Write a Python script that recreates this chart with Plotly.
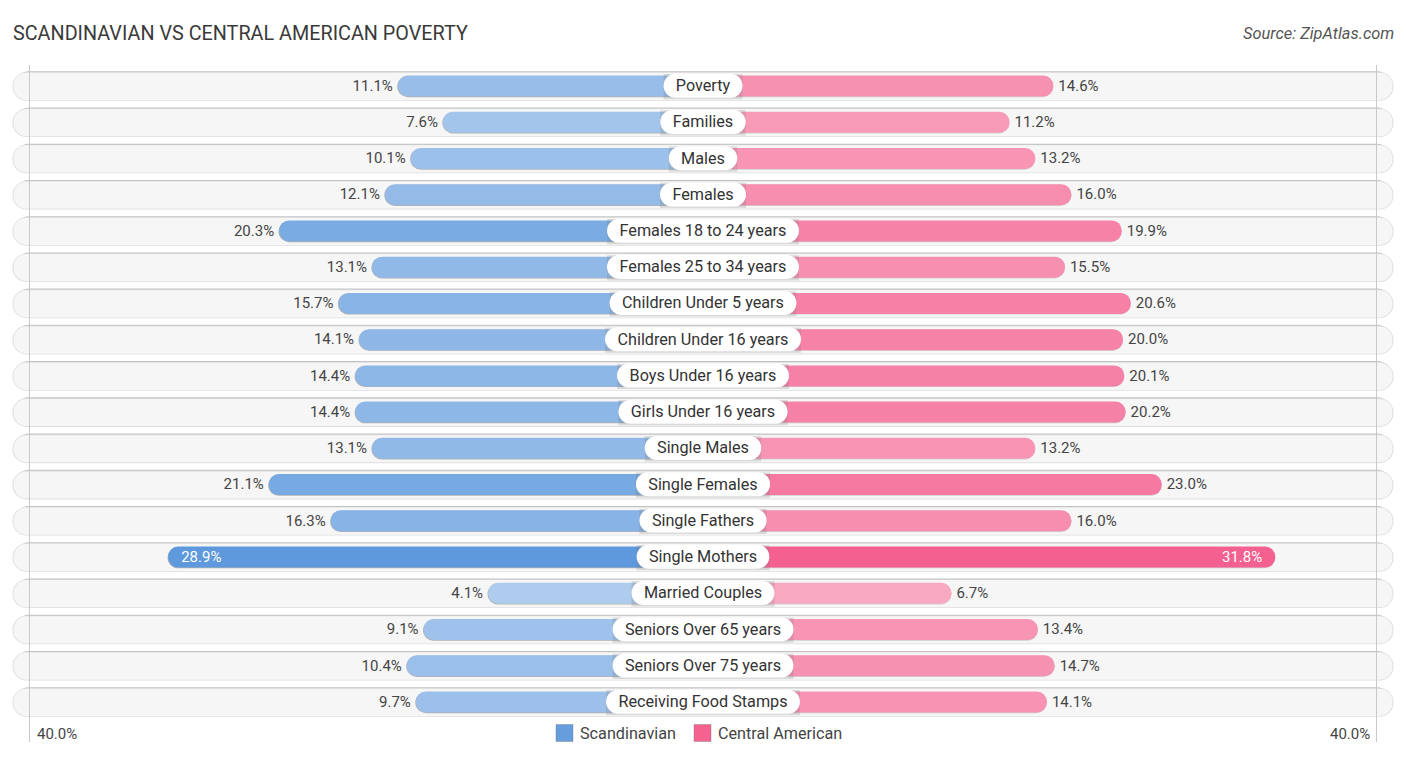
import plotly.graph_objects as go

labels = ["Poverty", "Families", "Males", "Females", "Females 18 to 24 years", "Females 25 to 34 years",
          "Children Under 5 years", "Children Under 16 years", "Boys Under 16 years", "Girls Under 16 years",
          "Single Males", "Single Females", "Single Fathers", "Single Mothers", "Married Couples",
          "Seniors Over 65 years", "Seniors Over 75 years", "Receiving Food Stamps"]
scandinavian = [11.1, 7.6, 10.1, 12.1, 20.3, 13.1, 15.7, 14.1, 14.4, 14.4, 13.1, 21.1, 16.3, 28.9, 4.1, 9.1, 10.4, 9.7]
central_american = [14.6, 11.2, 13.2, 16.0, 19.9, 15.5, 20.6, 20.0, 20.1, 20.2, 13.2, 23.0, 16.0, 31.8, 6.7, 13.4, 14.7, 14.1]
axis_max = 40.0

W, H = 1406, 758
PITCH = 36.235   # px between rows
FIRST_ROW = 86   # px of the first row centre
UNIT = 12.9      # px per percent
ZERO_GAP = 162 / UNIT  # bars start behind the centre label

# roboto advance widths, used to size the white pills
CHAR_W = {"a": .544, "b": .561, "c": .523, "d": .564, "e": .530, "f": .347, "g": .561, "h": .551, "i": .243,
          "l": .243, "m": .876, "n": .552, "o": .570, "p": .561, "r": .339, "s": .516, "t": .327, "u": .551,
          "v": .484, "w": .751, "y": .473, "z": .496, " ": .248, "B": .638, "C": .652, "F": .553, "G": .681,
          "M": .873, "O": .678, "P": .631, "R": .616, "S": .593, "U": .648}


def pill_half(label):
    w = sum(CHAR_W.get(c, .562) for c in label) * 16.2
    return (w / 2 + 12.3) / UNIT


def tint(rgb, v, vmax):
    # longer bars are stronger, mixed with white so the shadow does not show through
    a = 0.5 + 0.5 * (v - 4) / (vmax - 4)
    return "rgb(%d,%d,%d)" % tuple(round(255 + (c - 255) * a) for c in rgb)


def row_bar(x, color, top, bottom, radius):
    # top and bottom are px relative to the row centre
    return go.Bar(x=x, y=labels, orientation="h", width=(bottom - top) / PITCH, offset=top / PITCH,
                  marker=dict(color=color, cornerradius=radius, line=dict(width=0)),
                  hoverinfo="skip", showlegend=False)


fig = go.Figure()

# grey tracks behind every row
track = [690.5 / UNIT] * len(labels)
for side in (1, -1):
    fig.add_trace(row_bar([side * (t - 4 / UNIT) for t in track], "#c2c2c2", -14.8, 10, 12))
    fig.add_trace(row_bar([side * t for t in track], "#dedede", -13.8, 14.8, 14))
    fig.add_trace(row_bar([side * (t - 1 / UNIT) for t in track], "#f6f6f6", -13.2, 14, 13))

# the bars, with a thin shadow under them
left_x = [-(v + ZERO_GAP) for v in scandinavian]
right_x = [v + ZERO_GAP for v in central_american]
fig.add_trace(row_bar([v - 0.6 / UNIT for v in left_x], "rgba(90,90,90,0.45)", -10, 11.2, 11))
fig.add_trace(row_bar(right_x, "rgba(90,90,90,0.25)", -10, 11.2, 11))
fig.add_trace(row_bar(left_x, [tint((94, 153, 221), v, 28.9) for v in scandinavian], -10.5, 10.5, 11))
fig.add_trace(row_bar(right_x, [tint((244, 96, 143), v, 31.8) for v in central_american], -10.5, 10.5, 11))

# white pills in the middle
half = [pill_half(s) for s in labels]
for side in (1, -1):
    fig.add_trace(row_bar([side * h for h in half], "rgba(120,120,120,0.22)", -12, 13.2, 12))
for side in (1, -1):
    fig.add_trace(row_bar([side * h for h in half], "#ffffff", -12.3, 11.7, 12))

# text sits on a second y axis, 1px lower than the bars
fig.add_trace(go.Scatter(x=[0] * len(labels), y=labels, yaxis="y2", mode="text", text=labels,
                         textposition="middle center",
                         textfont=dict(family="Roboto", size=16.2, color="#333333"),
                         hoverinfo="skip", showlegend=False))

# value labels, inside the bar only for the long one
INSIDE = 25
for vals, side, outer, inner in ((scandinavian, -1, "middle left", "middle right"),
                                 (central_american, 1, "middle right", "middle left")):
    xs = [side * (v + ZERO_GAP + (-13 if v > INSIDE else 5) / UNIT) for v in vals]
    fig.add_trace(go.Scatter(x=xs, y=labels, yaxis="y2", mode="text", text=["%.1f%%" % v for v in vals],
                             textposition=[inner if v > INSIDE else outer for v in vals],
                             textfont=dict(family="Roboto", size=15,
                                           color=["#ffffff" if v > INSIDE else "#444444" for v in vals]),
                             hoverinfo="skip", showlegend=False))

# axis end lines
edge = 673.5 / UNIT
for side in (-1, 1):
    fig.add_shape(type="line", xref="x", yref="paper", x0=side * edge, x1=side * edge,
                  y0=1 - 65 / H, y1=1 - 742 / H, line=dict(color="#c8c8c8", width=1))

anns = [
    dict(text="SCANDINAVIAN VS CENTRAL AMERICAN POVERTY", x=11 / W, y=1 - 33 / H, xanchor="left",
         font=dict(size=19.8, color="#3a3a3a")),
    dict(text="<i>Source: ZipAtlas.com</i>", x=1396 / W, y=1 - 33 / H, xanchor="right",
         font=dict(size=16.4, color="#555555")),
    dict(text="%.1f%%" % axis_max, x=35 / W, y=1 - 734 / H, xanchor="left", font=dict(size=15, color="#444444")),
    dict(text="%.1f%%" % axis_max, x=1372 / W, y=1 - 734 / H, xanchor="right", font=dict(size=15, color="#444444")),
    dict(text="Scandinavian", x=578 / W, y=1 - 733 / H, xanchor="left", font=dict(size=16.2, color="#444444")),
    dict(text="Central American", x=716 / W, y=1 - 733 / H, xanchor="left", font=dict(size=16.2, color="#444444")),
]
for a in anns:
    a["font"]["family"] = "Roboto"
    fig.add_annotation(xref="paper", yref="paper", yanchor="middle", showarrow=False, **a)

# legend swatches
for x0, col in ((556, "#659ddd"), (694, "#f5628f")):
    fig.add_shape(type="rect", xref="paper", yref="paper", x0=x0 / W, x1=(x0 + 17) / W,
                  y0=1 - 724.5 / H, y1=1 - 741.5 / H, fillcolor=col, line=dict(color="rgba(120,120,120,0.4)", width=1))

row_range = [(H - FIRST_ROW) / PITCH, -FIRST_ROW / PITCH]
fig.update_layout(
    width=W, height=H, margin=dict(l=0, r=0, t=0, b=0),
    paper_bgcolor="white", plot_bgcolor="white", barmode="overlay",
    xaxis=dict(range=[-W / 2 / UNIT, W / 2 / UNIT], visible=False, fixedrange=True),
    yaxis=dict(type="category", categoryorder="array", categoryarray=labels, visible=False, fixedrange=True,
               range=row_range),
    yaxis2=dict(type="category", categoryorder="array", categoryarray=labels, visible=False, fixedrange=True,
                overlaying="y", range=[r - 1 / PITCH for r in row_range]),
)
# the browser's default body margin would push the chart 8px off
fig.write_html("out.html", config={"displayModeBar": False}, post_script="document.body.style.margin='0';")
